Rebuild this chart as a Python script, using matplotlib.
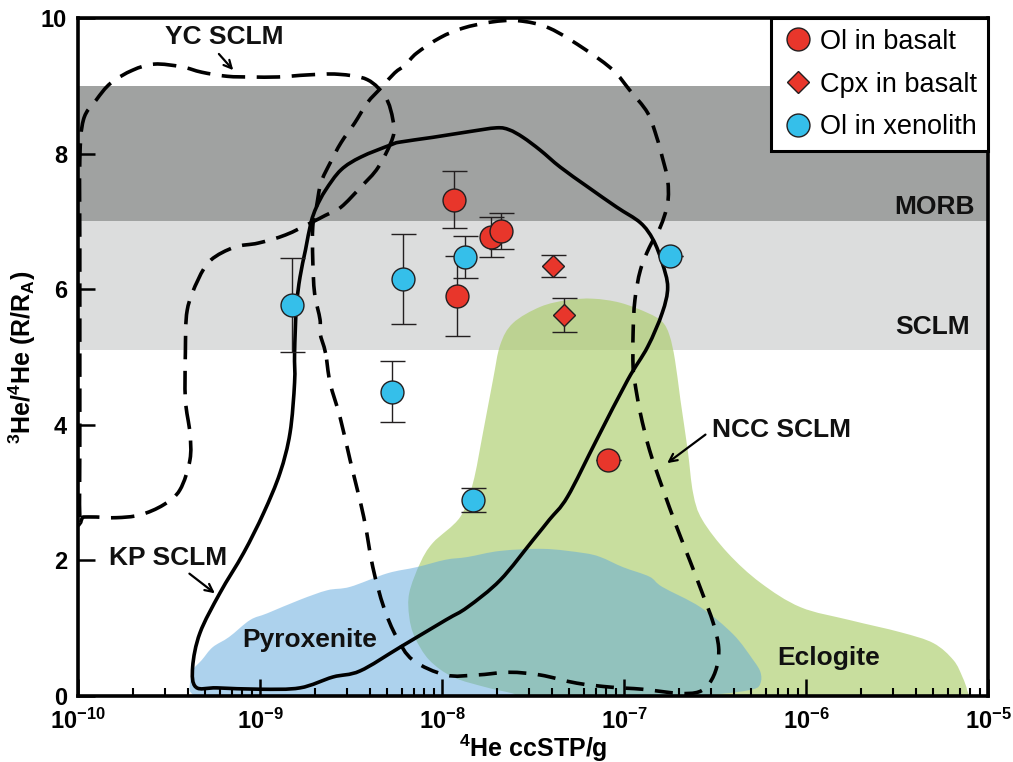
import numpy as np
import matplotlib
matplotlib.use("Agg")
import matplotlib.pyplot as plt
from matplotlib.path import Path
from matplotlib.patches import PathPatch
from matplotlib.ticker import FixedLocator, LogLocator, NullFormatter, FuncFormatter

plt.rcParams['font.family'] = ['Liberation Sans', 'DejaVu Sans']
plt.rcParams['mathtext.fontset'] = 'custom'
plt.rcParams['mathtext.rm'] = 'Liberation Sans'
plt.rcParams['mathtext.bf'] = 'Liberation Sans:bold'
plt.rcParams['mathtext.it'] = 'Liberation Sans:italic'

# --- measured samples ---
ol_basalt_he = [1.17e-8, 1.21e-8, 1.86e-8, 2.11e-8, 8.2e-8]
ol_basalt_r = [7.32, 5.90, 6.77, 6.86, 3.48]
ol_basalt_err = [0.42, 0.59, 0.30, 0.26, 0.0]

cpx_basalt_he = [4.08e-8, 4.70e-8]
cpx_basalt_r = [6.34, 5.62]
cpx_basalt_err = [0.16, 0.25]

ol_xeno_he = [1.50e-9, 6.08e-9, 5.29e-9, 1.33e-8, 1.48e-8, 1.79e-7]
ol_xeno_r = [5.77, 6.15, 4.49, 6.48, 2.89, 6.49]
ol_xeno_err = [0.69, 0.67, 0.45, 0.31, 0.18, 0.0]

# reference ranges (R/Ra)
morb_range = (7.0, 9.0)
sclm_range = (5.1, 7.0)

# --- field outlines: log10(4He), R/Ra ---
kp_logx = [-9.352, -9.236, -9.0, -8.78, -8.60, -8.45, -8.23, -7.98, -7.86, -7.68,
           -7.50, -7.41, -7.31, -7.15, -6.98, -6.87, -6.79, -6.76, -6.79, -6.84,
           -6.91, -7.04, -7.20, -7.35, -7.46, -7.555, -7.63, -7.70, -7.86, -8.05,
           -8.23, -8.28, -8.445, -8.555, -8.64, -8.69, -8.72, -8.75, -8.78, -8.80,
           -8.81, -8.81, -8.835, -8.89, -8.98, -9.09, -9.22, -9.33, -9.37]
kp_r = [0.13, 0.12, 0.10, 0.12, 0.28, 0.37, 0.72, 1.12, 1.31, 1.71,
        2.30, 2.60, 2.94, 3.78, 4.66, 5.15, 5.65, 6.03, 6.39, 6.73,
        6.98, 7.21, 7.51, 7.80, 8.05, 8.24, 8.35, 8.38, 8.32, 8.24,
        8.17, 8.13, 7.95, 7.76, 7.46, 7.21, 6.98, 6.58, 6.18, 5.74,
        5.06, 4.62, 3.88, 3.29, 2.70, 2.11, 1.52, 0.93, 0.43]

yc_logx = [-9.99, -9.99, -9.99, -9.99, -9.99, -9.97, -9.90, -9.82, -9.70, -9.58,
           -9.43, -9.32, -9.18, -9.05, -8.90, -8.74, -8.57, -8.41, -8.31, -8.27,
           -8.27, -8.35, -8.445, -8.555, -8.64, -8.72, -8.86, -9.01, -9.14, -9.27,
           -9.34, -9.40, -9.41, -9.41, -9.385, -9.385, -9.44, -9.53, -9.66, -9.79,
           -9.90, -9.97]
yc_r = [2.64, 3.8, 5.2, 6.6, 7.9, 8.50, 8.79, 9.04, 9.23, 9.32,
        9.28, 9.20, 9.14, 9.13, 9.13, 9.16, 9.17, 9.09, 8.83, 8.50,
        8.24, 7.80, 7.51, 7.21, 7.09, 6.98, 6.80, 6.68, 6.62, 6.43,
        6.14, 5.69, 5.06, 4.37, 3.88, 3.48, 3.04, 2.82, 2.67, 2.63,
        2.64, 2.64]

ncc_logx = [-8.64, -8.67, -8.67, -8.70, -8.71, -8.71, -8.69, -8.665, -8.615, -8.555,
            -8.48, -8.41, -8.335, -8.26, -8.20, -8.14, -8.01, -7.885, -7.73, -7.58,
            -7.41, -7.21, -7.06, -6.97, -6.87, -6.82, -6.79, -6.76, -6.76, -6.80,
            -6.86, -6.91, -6.94, -6.95, -6.95, -6.94, -6.91, -6.86, -6.79, -6.71,
            -6.64, -6.57, -6.51, -6.48, -6.49, -6.53, -6.59, -6.70, -6.90, -7.07,
            -7.26, -7.46, -7.63, -7.81, -7.98, -8.16, -8.25, -8.32, -8.38, -8.43,
            -8.505, -8.56, -8.615]
ncc_r = [5.06, 5.35, 5.55, 5.94, 6.43, 6.92, 7.21, 7.57, 7.86, 8.16,
         8.45, 8.75, 8.97, 9.19, 9.31, 9.48, 9.71, 9.85, 9.94, 9.96,
         9.85, 9.53, 9.23, 8.94, 8.60, 8.24, 7.95, 7.61, 7.27, 6.92,
         6.62, 6.28, 5.84, 5.35, 4.85, 4.62, 4.17, 3.63, 3.08, 2.49,
         2.01, 1.52, 1.08, 0.72, 0.43, 0.19, 0.06, 0.04, 0.10, 0.13,
         0.19, 0.31, 0.35, 0.31, 0.31, 0.53, 0.87, 1.31, 1.90, 2.64,
         3.48, 4.11, 4.62]

ecl_logx = [-5.12, -5.115, -5.14, -5.19, -5.30, -5.48, -5.76, -6.03, -6.25, -6.43,
            -6.57, -6.62, -6.65, -6.69, -6.72, -6.75, -6.79, -6.87, -7.02, -7.17,
            -7.31, -7.46, -7.61, -7.68, -7.72, -7.775, -7.83, -7.90, -8.05, -8.12,
            -8.18, -8.18, -8.15, -8.07, -7.94, -7.76, -7.615, -7.55, -7.2, -6.8,
            -6.4, -6.0, -5.6, -5.3]
ecl_r = [-0.02, 0.09, 0.28, 0.53, 0.78, 0.94, 1.12, 1.31, 1.67, 2.11,
         2.60, 2.99, 3.63, 4.37, 4.96, 5.32, 5.52, 5.65, 5.80, 5.86,
         5.84, 5.74, 5.50, 5.18, 4.66, 3.88, 3.14, 2.64, 2.26, 1.96,
         1.52, 1.17, 0.87, 0.53, 0.28, 0.13, 0.04, -0.02, -0.02, -0.02,
         -0.02, -0.02, -0.02, -0.02]

pyx_logx = [-9.38, -9.385, -9.37, -9.32, -9.26, -9.17, -9.055, -8.96, -8.78, -8.63,
            -8.505, -8.30, -8.14, -7.98, -7.86, -7.68, -7.44, -7.225, -7.13, -7.005,
            -6.86, -6.79, -6.58, -6.40, -6.29, -6.25, -6.25, -6.29, -6.47, -6.75,
            -7.2, -7.7, -8.2, -8.7, -9.1, -9.32]
pyx_r = [0.05, 0.18, 0.38, 0.53, 0.72, 0.87, 1.12, 1.22, 1.42, 1.56,
         1.61, 1.81, 1.90, 2.01, 2.05, 2.14, 2.17, 2.11, 2.05, 1.90,
         1.76, 1.61, 1.31, 0.91, 0.53, 0.35, 0.19, 0.10, 0.03, -0.02,
         -0.02, -0.02, -0.02, -0.02, -0.02, -0.01]

red = '#e8362b'
blue = '#35bfea'


def closed_curve(logx, r):
    # closed cubic Bezier through the outline vertices (Catmull-Rom tangents),
    # built in log space and mapped back to 4He units
    p = np.column_stack([logx, r]).astype(float)
    n = len(p)
    verts = [p[0]]
    codes = [Path.MOVETO]
    for i in range(n):
        p0, p1, p2, p3 = p[(i - 1) % n], p[i], p[(i + 1) % n], p[(i + 2) % n]
        verts += [p1 + (p2 - p0) / 6.0, p2 - (p3 - p1) / 6.0, p2]
        codes += [Path.CURVE4] * 3
    verts = np.array(verts)
    verts[:, 0] = 10 ** verts[:, 0]
    return Path(verts, codes)


fig = plt.figure(figsize=(10.13, 7.62), dpi=100)
ax = fig.add_axes([0.077, 0.0866, 0.8983, 0.8898])
ax.set_xscale('log')
ax.set_xlim(1e-10, 1e-5)
ax.set_ylim(0, 10)

# background bands
ax.axhspan(*morb_range, color='#a0a2a1', lw=0, zorder=0)
ax.axhspan(*sclm_range, color='#dcdddd', lw=0, zorder=0)

# lithology fields
ax.add_patch(PathPatch(closed_curve(ecl_logx, ecl_r), facecolor='#accd6c', alpha=0.66,
                       lw=0, zorder=1))
ax.add_patch(PathPatch(closed_curve(pyx_logx, pyx_r), facecolor='#5da7dd', alpha=0.5,
                       lw=0, zorder=1.5))

# SCLM outlines
ax.add_patch(PathPatch(closed_curve(kp_logx, kp_r), fill=False, edgecolor='black',
                       lw=2.6, zorder=3))
ax.add_patch(PathPatch(closed_curve(yc_logx, yc_r), fill=False, edgecolor='black',
                       lw=2.6, zorder=3, linestyle=(0, (6.5, 3.2))))
ax.add_patch(PathPatch(closed_curve(ncc_logx, ncc_r), fill=False, edgecolor='black',
                       lw=2.6, zorder=3, linestyle=(0, (5, 3.2))))

# error bars first, symbols on top
eb = dict(fmt='none', ecolor='#231f20', elinewidth=1.0, capsize=9, capthick=1.0, zorder=4)
ax.errorbar(ol_xeno_he, ol_xeno_r, yerr=ol_xeno_err, **eb)
ax.errorbar(ol_basalt_he, ol_basalt_r, yerr=ol_basalt_err, **eb)
ax.errorbar(cpx_basalt_he, cpx_basalt_r, yerr=cpx_basalt_err, **eb)

h1, = ax.plot(ol_basalt_he, ol_basalt_r, 'o', ms=16.5, mfc=red, mec='#231f20', mew=1.0,
              zorder=5, label='Ol in basalt')
h2, = ax.plot(cpx_basalt_he, cpx_basalt_r, 'D', ms=11.5, mfc=red, mec='#231f20', mew=1.0,
              zorder=5, label='Cpx in basalt')
h3, = ax.plot(ol_xeno_he, ol_xeno_r, 'o', ms=16.5, mfc=blue, mec='#231f20', mew=1.0,
              zorder=5, label='Ol in xenolith')

# field labels
lab = dict(fontsize=19, fontweight='bold', color='#111111', zorder=6)
ax.text(10 ** -5.07, 7.21, 'MORB', ha='right', va='center', **lab)
ax.text(10 ** -5.10, 5.44, 'SCLM', ha='right', va='center', **lab)
ax.text(10 ** -8.725, 0.83, 'Pyroxenite', ha='center', va='center', **lab)
ax.text(10 ** -5.874, 0.56, 'Eclogite', ha='center', va='center', **lab)
ax.text(10 ** -9.198, 9.72, 'YC SCLM', ha='center', va='center', **lab)
ax.text(10 ** -9.505, 2.04, 'KP SCLM', ha='center', va='center', **lab)
ax.text(10 ** -6.516, 3.92, 'NCC SCLM', ha='left', va='center', **lab)

arrow = dict(arrowstyle='->', color='black', lw=1.6, mutation_scale=14)
ax.annotate('', xy=(10 ** -9.137, 9.20), xytext=(10 ** -9.236, 9.50), arrowprops=arrow)
ax.annotate('', xy=(10 ** -9.236, 1.49), xytext=(10 ** -9.40, 1.83), arrowprops=arrow)
ax.annotate('', xy=(10 ** -6.775, 3.41), xytext=(10 ** -6.54, 3.88), arrowprops=arrow)

# axes styling
for s in ax.spines.values():
    s.set_linewidth(2.6)
    s.set_zorder(7)

ax.xaxis.set_major_locator(FixedLocator([1e-10, 1e-9, 1e-8, 1e-7, 1e-6, 1e-5]))
ax.xaxis.set_minor_locator(LogLocator(base=10, subs=np.arange(2, 10)))
ax.xaxis.set_minor_formatter(NullFormatter())
ax.xaxis.set_major_formatter(FuncFormatter(
    lambda v, p: r'$\mathbf{10^{%d}}$' % int(round(np.log10(v)))))
ax.set_yticks([0, 2, 4, 6, 8, 10])
ax.tick_params(axis='both', which='major', direction='in', length=12, width=1.8,
               labelsize=17, top=False, right=False)
ax.tick_params(axis='x', which='major', pad=9)
ax.tick_params(axis='y', which='major', pad=8)
ax.tick_params(axis='x', which='minor', direction='in', length=6, width=1.5, top=False)
for t in ax.get_yticklabels():
    t.set_fontweight('bold')

ax.set_xlabel(r'$^{\mathbf{4}}$He ccSTP/g', fontsize=18, fontweight='bold', labelpad=-1)
ax.set_ylabel(r'$^{\mathbf{3}}$He/$^{\mathbf{4}}$He (R/R$_{\mathbf{A}}$)', fontsize=18,
              fontweight='bold', labelpad=2)

leg = ax.legend(handles=[h1, h2, h3], loc='upper right', fontsize=19.5, frameon=True,
                fancybox=False, edgecolor='black', framealpha=1, borderaxespad=0,
                handletextpad=0.2, handlelength=1.2, borderpad=0.4, labelspacing=0.62)
leg.get_frame().set_linewidth(2.2)
leg.set_zorder(8)

fig.savefig('out.png', dpi=100)
